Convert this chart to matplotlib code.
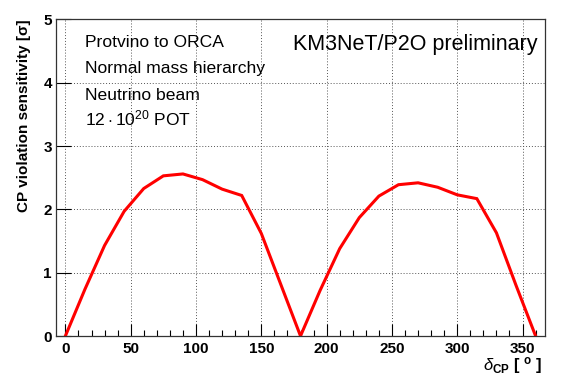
import numpy as np
import matplotlib
matplotlib.use("Agg")
import matplotlib.pyplot as plt
from matplotlib.ticker import MultipleLocator

plt.rcParams["font.family"] = ["Liberation Sans", "DejaVu Sans"]
plt.rcParams["mathtext.fontset"] = "custom"
plt.rcParams["mathtext.rm"] = "Liberation Sans"
plt.rcParams["mathtext.bf"] = "Liberation Sans:bold"
plt.rcParams["mathtext.it"] = "Liberation Sans:italic"

# ── dati ─────────────────────────────────────────────────────────────────────
delta_cp = [0, 15, 30, 45, 60, 75, 90, 105, 120, 135, 150, 165, 180,
            195, 210, 225, 240, 255, 270, 285, 300, 315, 330, 345, 360]
sensitivity = [0.0, 0.74, 1.43, 1.97, 2.33, 2.53, 2.56, 2.47, 2.32, 2.22, 1.62, 0.81, 0.0,
               0.72, 1.38, 1.87, 2.21, 2.39, 2.42, 2.35, 2.23, 2.17, 1.63, 0.80, 0.0]
info_lines = ["Protvino to ORCA", "Normal mass hierarchy", "Neutrino beam",
              r"$\mathrm{12\cdot10^{20}}$ POT"]

fig = plt.figure(figsize=(5.62, 3.82), dpi=100)
ax = fig.add_axes([0.0996, 0.1204, 0.8702, 0.8286])

ax.plot(delta_cp, sensitivity, color="red", lw=2.2, solid_joinstyle="miter")

ax.set_xlim(-7.2, 367.2)
ax.set_ylim(0, 5)
ax.xaxis.set_major_locator(MultipleLocator(50))
ax.xaxis.set_minor_locator(MultipleLocator(10))
ax.yaxis.set_major_locator(MultipleLocator(1))
ax.tick_params(axis="x", which="major", direction="in", length=9, width=0.8,
               labelsize=11, pad=4)
ax.tick_params(axis="x", which="minor", direction="in", length=4.5, width=0.8)
ax.tick_params(axis="y", which="major", direction="in", length=11, width=0.8,
               labelsize=11, pad=3)
for lab in ax.get_xticklabels() + ax.get_yticklabels():
    lab.set_fontweight("bold")
ax.grid(True, which="major", ls=(0, (1, 2)), color="#555555", lw=0.7)
for sp in ax.spines.values():
    sp.set_linewidth(0.9)
    sp.set_color("#333333")

ax.set_ylabel("CP violation sensitivity [σ]", fontsize=11, fontweight="bold",
              va="center", ha="right")
ax.yaxis.set_label_coords(-0.066, 1.0)

fig.text(0.966, 0.031, r"$\delta_{\mathbf{CP}}$ [ $^{\mathbf{o}}$ ]", fontsize=12,
         fontweight="bold", ha="right", va="baseline")

for i, s in enumerate(info_lines):
    ax.text(0.059, 0.913 - i * 0.083, s, transform=ax.transAxes, fontsize=12.6,
            va="baseline")
ax.text(0.985, 0.904, "KM3NeT/P2O preliminary", transform=ax.transAxes,
        fontsize=15.5, ha="right", va="baseline")

fig.savefig("out.png", dpi=100)
